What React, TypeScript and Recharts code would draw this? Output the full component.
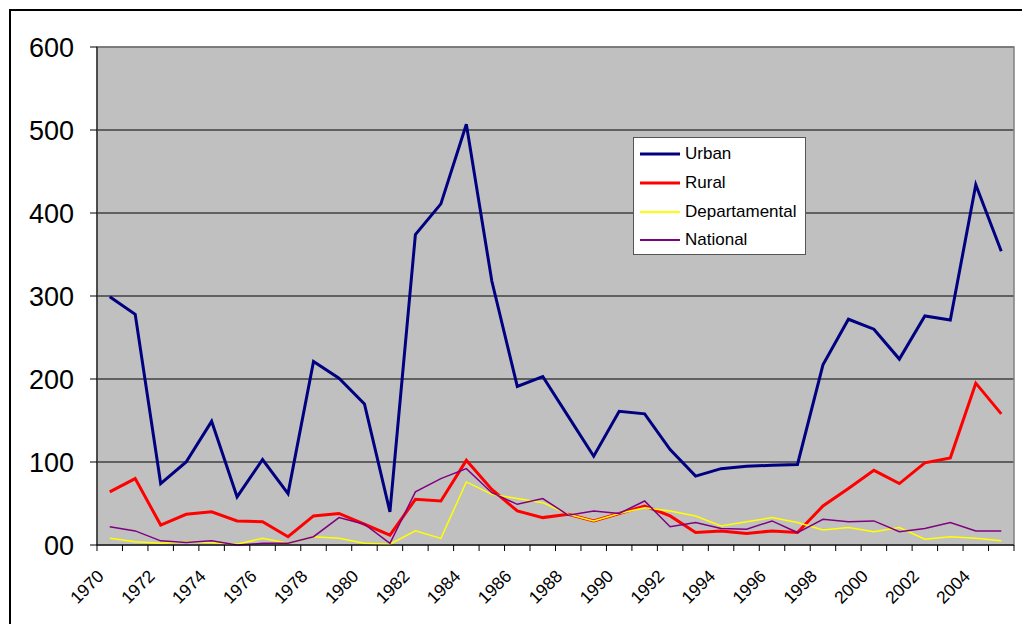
import React from 'react';
import { LineChart, Line, XAxis, YAxis, CartesianGrid, ReferenceArea } from 'recharts';

const years = [
  1970, 1971, 1972, 1973, 1974, 1975, 1976, 1977, 1978, 1979, 1980, 1981,
  1982, 1983, 1984, 1985, 1986, 1987, 1988, 1989, 1990, 1991, 1992, 1993,
  1994, 1995, 1996, 1997, 1998, 1999, 2000, 2001, 2002, 2003, 2004, 2005,
];

const urban = [
  299, 278, 74, 100, 149, 58, 103, 62, 221, 201, 170, 40,
  374, 411, 507, 318, 191, 203, 155, 107, 161, 158, 115, 83,
  92, 95, 96, 97, 217, 272, 260, 224, 276, 271, 434, 354,
];

const rural = [
  64, 80, 24, 37, 40, 29, 28, 10, 35, 38, 25, 12,
  55, 53, 102, 67, 41, 33, 37, 29, 38, 47, 35, 15,
  17, 14, 17, 15, 47, 68, 90, 74, 99, 105, 195, 158,
];

const departamental = [
  8, 4, 2, 4, 3, 1, 8, 2, 10, 8, 2, 1,
  17, 8, 76, 61, 56, 51, 37, 29, 38, 45, 41, 35,
  23, 28, 33, 27, 18, 21, 16, 21, 7, 10, 8, 5,
];

const national = [
  22, 17, 5, 3, 5, 0, 2, 2, 10, 33, 25, 2,
  64, 80, 92, 63, 49, 56, 36, 41, 38, 53, 22, 27,
  20, 19, 29, 15, 31, 28, 29, 16, 20, 27, 17, 17,
];

const yTicks = [0, 100, 200, 300, 400, 500, 600];

const data = years.map((year, i) => ({
  year,
  Urban: urban[i],
  Rural: rural[i],
  Departamental: departamental[i],
  National: national[i],
}));

const series = [
  { key: 'Urban', color: '#000080', width: 3 },
  { key: 'Rural', color: '#FF0000', width: 3 },
  { key: 'Departamental', color: '#FFFF00', width: 1.5 },
  { key: 'National', color: '#800080', width: 1.5 },
];

const font = 'Arial, "Liberation Sans", sans-serif';
const plotLeft = 97;
const plotRight = 1014;
const halfStep = (plotRight - plotLeft) / years.length / 2;

function YearTick(props: any) {
  const { x, y, payload } = props;
  const year = payload.value as number;
  const lx = x - 9;
  const ly = y + 28;
  return (
    <g>
      <line x1={x - halfStep} x2={x - halfStep} y1={y} y2={y + 6} stroke="#000" />
      {year === years[years.length - 1] && (
        <line x1={x + halfStep} x2={x + halfStep} y1={y} y2={y + 6} stroke="#000" />
      )}
      {year % 2 === 0 && (
        <text
          x={lx}
          y={ly}
          textAnchor="end"
          dominantBaseline="central"
          fontSize={17.5}
          fontFamily={font}
          fill="#000"
          transform={`rotate(-45 ${lx} ${ly})`}
        >
          {year}
        </text>
      )}
    </g>
  );
}

// legend drawn as an overlay so it does not take room from the plot
function LegendBox() {
  return (
    <div
      style={{
        position: 'absolute',
        left: 633,
        top: 137,
        width: 171,
        height: 114,
        background: '#fff',
        border: '1px solid #555',
        paddingTop: 2,
        fontFamily: font,
      }}
    >
      {series.map((s) => (
        <div key={s.key} style={{ display: 'flex', alignItems: 'center', height: 28.7, paddingLeft: 6 }}>
          <svg width={40} height={6} style={{ display: 'block' }}>
            <line x1={0} x2={40} y1={3} y2={3} stroke={s.color} strokeWidth={s.width === 3 ? 3 : 2} />
          </svg>
          <span style={{ marginLeft: 5, fontSize: 17, color: '#000' }}>{s.key}</span>
        </div>
      ))}
    </div>
  );
}

export default function App() {
  return (
    <div style={{ position: 'absolute', left: 0, top: 0, width: 1022, height: 624, overflow: 'hidden', background: '#fff' }}>
      <div
        style={{
          position: 'absolute',
          left: 9,
          top: 9,
          width: 1100,
          height: 700,
          borderLeft: '2px solid #000',
          borderTop: '2px solid #000',
        }}
      />
      <div style={{ position: 'absolute', left: 0, top: 0 }}>
        <LineChart width={1022} height={624} data={data} margin={{ top: 47, right: 8, bottom: 19, left: 0 }}>
          <CartesianGrid vertical={false} stroke="#000" fill="#C0C0C0" strokeOpacity={1} />
          <ReferenceArea x1={1969.5} x2={2005.5} y1={0} y2={600} fill="none" stroke="#808080" strokeWidth={1.5} ifOverflow="visible" />
          <XAxis
            dataKey="year"
            type="number"
            domain={[1969.5, 2005.5]}
            ticks={years}
            interval={0}
            allowDataOverflow
            tickLine={false}
            tickSize={0}
            tickMargin={0}
            height={60}
            axisLine={{ stroke: '#000' }}
            tick={<YearTick />}
          />
          <YAxis
            domain={[0, 600]}
            ticks={yTicks}
            interval={0}
            width={97}
            tickSize={7}
            tickMargin={16}
            tickLine={{ stroke: '#000' }}
            axisLine={{ stroke: '#000' }}
            tick={{ fill: '#000', fontSize: 27, fontFamily: font }}
            tickFormatter={(v: number) => (v === 0 ? '00' : String(v))}
          />
          {series.map((s) => (
            <Line
              key={s.key}
              type="linear"
              dataKey={s.key}
              stroke={s.color}
              strokeWidth={s.width}
              dot={false}
              activeDot={false}
              isAnimationActive={false}
            />
          ))}
        </LineChart>
      </div>
      <LegendBox />
    </div>
  );
}
